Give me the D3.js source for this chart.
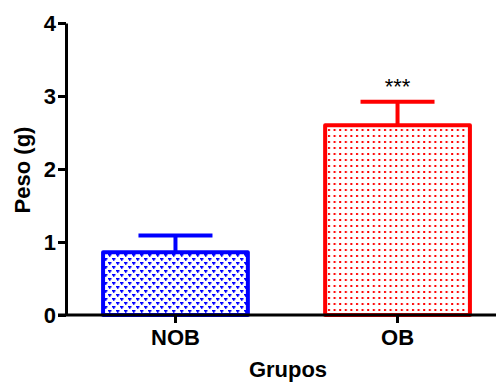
<!DOCTYPE html>
<html>
<head>
<meta charset="utf-8">
<script src="https://cdn.jsdelivr.net/npm/d3@7"></script>
<style>
  body { margin: 0; background: #fff; }
  text { font-family: "Liberation Sans", Arial, sans-serif; font-weight: bold; }
</style>
</head>
<body>
<script>
// Data
var groups = ["NOB", "OB"];
var means = [0.86, 2.60];
var errors = [0.23, 0.32];
var colors = ["#0000ff", "#ff0000"];
var signif = ["", "***"];
var yTicks = [0, 1, 2, 3, 4];

var W = 496, H = 384;
var fs = "22px";

var svg = d3.select("body")
    .append("svg")
    .attr("width", W)
    .attr("height", H);

// Patterns
var defs = svg.append("defs");

var pBlue = defs.append("pattern")
    .attr("id", "pat0")
    .attr("patternUnits", "userSpaceOnUse")
    .attr("width", 8)
    .attr("height", 8)
    .attr("x", 104).attr("y", 2);
pBlue.append("rect").attr("width", 8).attr("height", 8).attr("fill", "#fff");
[[0, 0], [4, 4]].forEach(function (o) {
    pBlue.append("rect").attr("x", o[0]).attr("y", o[1]).attr("width", 3.5).attr("height", 1.5).attr("fill", colors[0]);
    pBlue.append("rect").attr("x", o[0] + 1).attr("y", o[1] + 1).attr("width", 1.5).attr("height", 1.8).attr("fill", colors[0]);
});

var pRed = defs.append("pattern")
    .attr("id", "pat1")
    .attr("patternUnits", "userSpaceOnUse")
    .attr("width", 5.6)
    .attr("height", 6)
    .attr("x", 327).attr("y", 2);
pRed.append("rect").attr("width", 5.6).attr("height", 6).attr("fill", "#fff");
pRed.append("rect").attr("x", 1).attr("y", 1).attr("width", 2).attr("height", 2).attr("fill", colors[1]);

// Scales
var y = d3.scaleLinear()
    .domain([0, 4])
    .range([315, 23]);

var x = d3.scaleBand()
    .domain(groups)
    .range([66, 507])
    .paddingInner(0.33)
    .paddingOuter(0.158);

// Bars
var bars = svg.selectAll(".bar")
    .data(groups)
    .enter().append("g")
    .attr("class", "bar");

bars.append("rect")
    .attr("x", function (d) { return x(d) + 2; })
    .attr("y", function (d, i) { return y(means[i]); })
    .attr("width", x.bandwidth() - 4)
    .attr("height", function (d, i) { return y(0) - y(means[i]); })
    .attr("fill", function (d, i) { return "url(#pat" + i + ")"; })
    .attr("stroke", function (d, i) { return colors[i]; })
    .attr("stroke-width", 4)
    .attr("stroke-linejoin", "round");

// Error bars (upper only)
bars.append("line")
    .attr("x1", function (d) { return x(d) + x.bandwidth() / 2; })
    .attr("x2", function (d) { return x(d) + x.bandwidth() / 2; })
    .attr("y1", function (d, i) { return y(means[i]); })
    .attr("y2", function (d, i) { return y(means[i] + errors[i]); })
    .attr("stroke", function (d, i) { return colors[i]; })
    .attr("stroke-width", 4);

bars.append("line")
    .attr("x1", function (d) { return x(d) + x.bandwidth() / 2 - 37; })
    .attr("x2", function (d) { return x(d) + x.bandwidth() / 2 + 37; })
    .attr("y1", function (d, i) { return y(means[i] + errors[i]); })
    .attr("y2", function (d, i) { return y(means[i] + errors[i]); })
    .attr("stroke", function (d, i) { return colors[i]; })
    .attr("stroke-width", 4);

// Significance stars
bars.append("text")
    .attr("x", function (d) { return x(d) + x.bandwidth() / 2; })
    .attr("y", function (d, i) { return y(means[i] + errors[i]) - 8; })
    .attr("text-anchor", "middle")
    .style("font-size", fs)
    .style("font-weight", "normal")
    .text(function (d, i) { return signif[i]; });

// Y axis
var yAxis = svg.append("g")
    .attr("transform", "translate(66,0)")
    .call(d3.axisLeft(y).tickValues(yTicks).tickFormat(d3.format("d")).tickSize(8).tickSizeOuter(0));
yAxis.select(".domain").attr("stroke-width", 3);
yAxis.selectAll(".tick line").attr("stroke-width", 3);
yAxis.selectAll(".tick text").style("font-size", fs).attr("x", -10).attr("fill", "#000");

// X axis
var xAxis = svg.append("g")
    .attr("transform", "translate(0,315)")
    .call(d3.axisBottom(x).tickSize(8).tickSizeOuter(0));
xAxis.select(".domain").attr("d", "M58,0H496").attr("stroke-width", 3);
xAxis.selectAll(".tick line").attr("stroke-width", 3);
xAxis.selectAll(".tick text").style("font-size", fs).attr("y", 14).attr("fill", "#000");

// Axis labels
svg.append("text")
    .attr("x", 288)
    .attr("y", 377)
    .attr("text-anchor", "middle")
    .style("font-size", fs)
    .text("Grupos");

svg.append("text")
    .attr("transform", "translate(30,170) rotate(-90)")
    .attr("text-anchor", "middle")
    .style("font-size", fs)
    .text("Peso (g)");
</script>
</body>
</html>
